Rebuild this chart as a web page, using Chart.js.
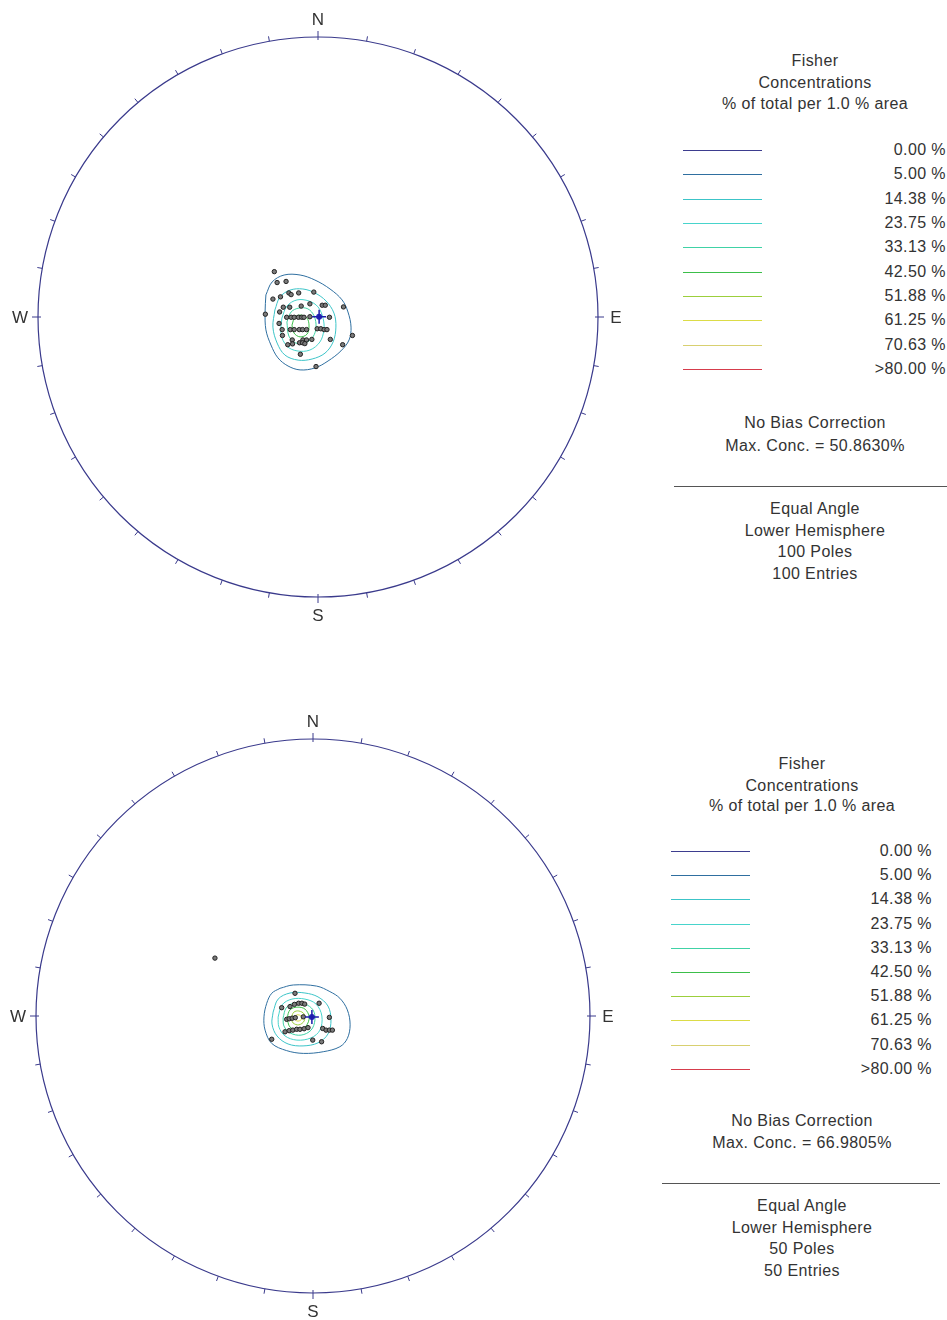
<!DOCTYPE html>
<html>
<head>
<meta charset="utf-8">
<title>Fisher Concentrations stereonets</title>
<script src="https://cdn.jsdelivr.net/npm/chart.js@4.4.0/dist/chart.umd.min.js"></script>
<style>
  html, body { margin: 0; padding: 0; background: #fff; width: 947px; height: 1320px; overflow: hidden; }
  body { position: relative; font-family: "Liberation Sans", Arial, sans-serif; color: #333; }
  canvas { position: absolute; left: 0; }
  .txt { position: absolute; font-size: 16px; letter-spacing: 0.4px; line-height: 18px; white-space: nowrap; }
  .ctr { text-align: center; }
  .rgt { text-align: right; }
  .swatch { position: absolute; height: 1px; }
  .divider { position: absolute; height: 1px; background: #555; }
</style>
</head>
<body>
<canvas id="netTop" width="636" height="634" style="top:0"></canvas>
<canvas id="netBottom" width="626" height="632" style="top:700px"></canvas>
<div id="legends"></div>

<script>
// ---- legend levels (shared by both plots)
const levelLabels = ['0.00 %', '5.00 %', '14.38 %', '23.75 %', '33.13 %', '42.50 %', '51.88 %', '61.25 %', '70.63 %', '>80.00 %'];
const levelColors = ['#3d3d8f', '#2f6fa0', '#3cc4c8', '#48d4cc', '#40d2a6', '#3cbf4a', '#9ccf3c', '#dcdc48', '#d8d070', '#d63c4c'];

// ---- compass
const tickAngles = [0, 10, 20, 30, 40, 50, 60, 70, 80, 90, 100, 110, 120, 130, 140, 150, 160, 170,
  180, 190, 200, 210, 220, 230, 240, 250, 260, 270, 280, 290, 300, 310, 320, 330, 340, 350];
const compassLabels = ['N', 'E', 'S', 'W'];
const compassAngles = [0, 90, 180, 270];

// ---- top plot (100 poles), unit-circle coordinates
const topPoles = [
  [-0.156, 0.162], [-0.146, 0.123], [-0.114, 0.127], [-0.104, 0.086], [-0.096, 0.080], [-0.069, 0.086],
  [-0.015, 0.089], [-0.161, 0.064], [-0.134, 0.072], [-0.124, 0.035], [-0.101, 0.035], [-0.060, 0.039],
  [-0.029, 0.047], [0.015, 0.042], [0.026, 0.042], [0.091, 0.036], [-0.188, 0.010], [-0.137, 0.018],
  [-0.112, -0.001], [-0.096, -0.001], [-0.085, -0.001], [-0.070, -0.001], [-0.058, -0.001], [-0.050, -0.001],
  [-0.029, 0.001], [0.041, -0.001], [-0.139, -0.023], [-0.128, -0.045], [-0.099, -0.045], [-0.085, -0.045],
  [-0.067, -0.045], [-0.055, -0.045], [-0.041, -0.045], [-0.003, -0.042], [0.010, -0.042], [0.022, -0.045],
  [0.032, -0.045], [0.123, -0.066], [-0.127, -0.066], [-0.092, -0.082], [-0.054, -0.082], [-0.041, -0.082],
  [-0.022, -0.080], [0.044, -0.080], [-0.108, -0.099], [-0.091, -0.096], [-0.066, -0.092], [-0.055, -0.092],
  [-0.047, -0.095], [0.088, -0.099], [-0.063, -0.133], [-0.007, -0.177]
];
const topMean = [[0.004, 0.001]];
const topC05 = [[-0.186, 0.079], [-0.164, 0.125], [-0.121, 0.150], [-0.064, 0.150], [-0.011, 0.132], [0.043, 0.100],
  [0.086, 0.061], [0.107, 0.018], [0.118, -0.036], [0.111, -0.082], [0.082, -0.121], [0.036, -0.157],
  [-0.011, -0.182], [-0.064, -0.189], [-0.107, -0.175], [-0.143, -0.146], [-0.168, -0.100], [-0.186, -0.046],
  [-0.189, 0.018]];
const topC14 = [[-0.154, 0.025], [-0.136, 0.071], [-0.100, 0.096], [-0.054, 0.100], [-0.011, 0.086], [0.029, 0.057],
  [0.057, 0.014], [0.064, -0.036], [0.054, -0.089], [0.025, -0.129], [-0.021, -0.150], [-0.071, -0.154],
  [-0.118, -0.136], [-0.146, -0.093], [-0.161, -0.036]];
const topC23 = [[-0.129, -0.004], [-0.111, 0.039], [-0.075, 0.061], [-0.032, 0.057], [0.000, 0.036], [0.018, -0.004],
  [0.021, -0.046], [0.007, -0.089], [-0.029, -0.118], [-0.075, -0.121], [-0.111, -0.104], [-0.132, -0.061]];
const topC33 = [[-0.111, -0.018], [-0.096, 0.018], [-0.068, 0.032], [-0.036, 0.029], [-0.014, 0.004], [-0.007, -0.036],
  [-0.018, -0.071], [-0.046, -0.093], [-0.079, -0.093], [-0.104, -0.068]];
const topC42 = [[-0.093, -0.029], [-0.082, 0.000], [-0.061, 0.007], [-0.039, -0.004], [-0.032, -0.032], [-0.039, -0.061],
  [-0.064, -0.071], [-0.086, -0.057]];

// ---- bottom plot (50 poles)
const botPoles = [
  [-0.354, 0.209],
  [-0.065, 0.082], [-0.113, 0.030], [-0.083, 0.034], [-0.067, 0.042], [-0.052, 0.046], [-0.040, 0.046],
  [-0.030, 0.043], [0.022, 0.046], [-0.095, -0.012], [-0.086, -0.010], [-0.075, -0.008], [-0.064, -0.006],
  [-0.035, -0.003], [0.059, -0.005], [-0.101, -0.057], [-0.086, -0.053], [-0.073, -0.051], [-0.059, -0.048],
  [-0.047, -0.048], [-0.032, -0.046], [-0.018, -0.042], [0.035, -0.045], [0.047, -0.051], [0.059, -0.051],
  [0.070, -0.051], [-0.149, -0.084], [-0.001, -0.087], [0.031, -0.093]
];
const botMean = [[-0.004, -0.004]];
const botC05 = [[-0.119, 0.100], [-0.071, 0.112], [0.013, 0.108], [0.061, 0.088], [0.097, 0.064], [0.124, 0.022],
  [0.134, -0.032], [0.124, -0.081], [0.097, -0.111], [0.037, -0.129], [-0.035, -0.135], [-0.095, -0.125],
  [-0.149, -0.099], [-0.173, -0.051], [-0.177, -0.003], [-0.167, 0.046], [-0.149, 0.082]];
const botC14 = [[-0.144, 0.014], [-0.126, 0.061], [-0.083, 0.083], [-0.029, 0.083], [0.018, 0.069], [0.054, 0.036],
  [0.065, -0.014], [0.054, -0.065], [0.018, -0.097], [-0.036, -0.108], [-0.090, -0.101], [-0.130, -0.072],
  [-0.148, -0.029]];
const botC23 = [[-0.126, -0.004], [-0.112, 0.040], [-0.076, 0.061], [-0.029, 0.061], [0.011, 0.043], [0.032, 0.000],
  [0.025, -0.051], [-0.007, -0.079], [-0.058, -0.087], [-0.101, -0.072], [-0.123, -0.040]];
const botC33 = [[-0.108, -0.007], [-0.097, 0.029], [-0.069, 0.047], [-0.029, 0.043], [0.000, 0.022], [0.007, -0.014],
  [-0.007, -0.051], [-0.043, -0.069], [-0.083, -0.061], [-0.105, -0.036]];
const botC42 = [[-0.094, -0.007], [-0.083, 0.022], [-0.058, 0.032], [-0.029, 0.025], [-0.014, -0.004], [-0.025, -0.036],
  [-0.054, -0.051], [-0.083, -0.040]];
const botC51 = [[-0.079, -0.007], [-0.069, 0.014], [-0.051, 0.018], [-0.032, 0.007], [-0.032, -0.018], [-0.051, -0.032],
  [-0.072, -0.025]];
const botC61 = [[-0.069, -0.007], [-0.058, 0.004], [-0.043, 0.000], [-0.043, -0.014], [-0.058, -0.018]];

// ---- legend text
const topInfo = ['No Bias Correction', 'Max. Conc. = 50.8630%', 'Equal Angle', 'Lower Hemisphere', '100 Poles', '100 Entries'];
const botInfo = ['No Bias Correction', 'Max. Conc. = 66.9805%', 'Equal Angle', 'Lower Hemisphere', '50 Poles', '50 Entries'];
const titleLines = ['Fisher', 'Concentrations', '% of total per 1.0 % area'];

const frameColor = '#3a3a8c';

// draws the primitive circle, ticks and N/E/S/W from the chart's own scales
const netFrame = {
  id: 'netFrame',
  beforeDatasetsDraw(chart) {
    const { ctx, scales: { x, y } } = chart;
    const cx = x.getPixelForValue(0), cy = y.getPixelForValue(0);
    const r = x.getPixelForValue(1) - cx;
    ctx.save();
    ctx.strokeStyle = frameColor;
    ctx.lineWidth = 1.2;
    ctx.beginPath();
    ctx.arc(cx, cy, r, 0, Math.PI * 2);
    ctx.stroke();
    ctx.lineWidth = 1;
    tickAngles.forEach(a => {
      const major = a % 90 === 0;
      const t = a * Math.PI / 180;
      const r0 = major ? r - 3 : r, r1 = major ? r + 6 : r + 5;
      const sx = Math.sin(t), sy = -Math.cos(t);
      ctx.beginPath();
      ctx.moveTo(cx + sx * r0, cy + sy * r0);
      ctx.lineTo(cx + sx * r1, cy + sy * r1);
      ctx.stroke();
    });
    ctx.fillStyle = '#333';
    ctx.font = '17px "Liberation Sans", Arial, sans-serif';
    ctx.textAlign = 'center';
    ctx.textBaseline = 'middle';
    compassLabels.forEach((lab, i) => {
      const t = compassAngles[i] * Math.PI / 180;
      const d = r + 18;
      ctx.fillText(lab, cx + Math.sin(t) * d, cy - Math.cos(t) * d + 1);
    });
    ctx.restore();
  }
};

const toXY = arr => arr.map(p => ({ x: p[0], y: p[1] }));
const closed = arr => toXY(arr.concat([arr[0]]));

function makeNet(id, radiusPx, contours, poles, mean) {
  const cv = document.getElementById(id);
  const hx = cv.width / 2 / radiusPx, hy = cv.height / 2 / radiusPx;
  const datasets = [];
  datasets.push({ data: toXY(mean), pointStyle: 'cross', pointRadius: 7, borderColor: '#1c1caa', borderWidth: 1.5, order: 0 });
  datasets.push({ data: toXY(mean), pointStyle: 'circle', pointRadius: 3, backgroundColor: '#2424b8', borderColor: '#2424b8', borderWidth: 0, order: 0 });
  datasets.push({ data: toXY(poles), pointStyle: 'circle', pointRadius: 2.2, backgroundColor: '#7a7a7a', borderColor: '#222', borderWidth: 1, order: 1 });
  contours.forEach((c, i) => {
    datasets.push({
      data: closed(c.pts), showLine: true, fill: false, tension: 0.35, pointRadius: 0,
      borderColor: levelColors[c.level], borderWidth: 1, order: 2 + i
    });
  });
  return new Chart(cv, {
    type: 'scatter',
    data: { datasets },
    options: {
      responsive: false,
      animation: false,
      events: [],
      layout: { padding: 0, autoPadding: false },
      plugins: { legend: { display: false }, tooltip: { enabled: false } },
      scales: {
        x: { type: 'linear', min: -hx, max: hx, display: false },
        y: { type: 'linear', min: -hy, max: hy, display: false }
      }
    },
    plugins: [netFrame]
  });
}

makeNet('netTop', 280, [
  { level: 1, pts: topC05 }, { level: 2, pts: topC14 }, { level: 3, pts: topC23 },
  { level: 4, pts: topC33 }, { level: 5, pts: topC42 }
], topPoles, topMean);

makeNet('netBottom', 277, [
  { level: 1, pts: botC05 }, { level: 2, pts: botC14 }, { level: 3, pts: botC23 }, { level: 4, pts: botC33 },
  { level: 5, pts: botC42 }, { level: 6, pts: botC51 }, { level: 7, pts: botC61 }
], botPoles, botMean);

// ---- legends as HTML text
function addText(parent, str, cls, x, yc, w) {
  const d = document.createElement('div');
  d.className = 'txt ' + cls;
  d.textContent = str;
  d.style.left = x + 'px';
  d.style.top = (yc - 9) + 'px';
  d.style.width = w + 'px';
  parent.appendChild(d);
}

function buildLegend(g, info) {
  const host = document.getElementById('legends');
  titleLines.forEach((t, i) => addText(host, t, 'ctr', g.cx - 130, g.titleY[i], 260));
  levelLabels.forEach((lab, i) => {
    const y = g.lineY0 + i * g.lineStep;
    const s = document.createElement('div');
    s.className = 'swatch';
    s.style.left = g.swX + 'px';
    s.style.width = '79px';
    s.style.top = Math.round(y) + 'px';
    s.style.backgroundColor = levelColors[i];
    host.appendChild(s);
    addText(host, lab, 'rgt', g.valR - 120, y, 120);
  });
  addText(host, info[0], 'ctr', g.cx - 130, g.noteY[0], 260);
  addText(host, info[1], 'ctr', g.cx - 130, g.noteY[1], 260);
  const dv = document.createElement('div');
  dv.className = 'divider';
  dv.style.left = g.divX + 'px';
  dv.style.width = g.divW + 'px';
  dv.style.top = g.divY + 'px';
  host.appendChild(dv);
  info.slice(2).forEach((t, i) => addText(host, t, 'ctr', g.cx - 130, g.infoY[i], 260));
}

buildLegend({ cx: 815, titleY: [61, 83, 104], swX: 683, lineY0: 150, lineStep: 24.35, valR: 946,
  noteY: [423, 446], divX: 674, divW: 273, divY: 486, infoY: [509, 531, 552, 574] }, topInfo);
buildLegend({ cx: 802, titleY: [764, 786, 806], swX: 671, lineY0: 851, lineStep: 24.2, valR: 932,
  noteY: [1121, 1143], divX: 662, divW: 278, divY: 1183, infoY: [1206, 1228, 1249, 1271] }, botInfo);
</script>
</body>
</html>
